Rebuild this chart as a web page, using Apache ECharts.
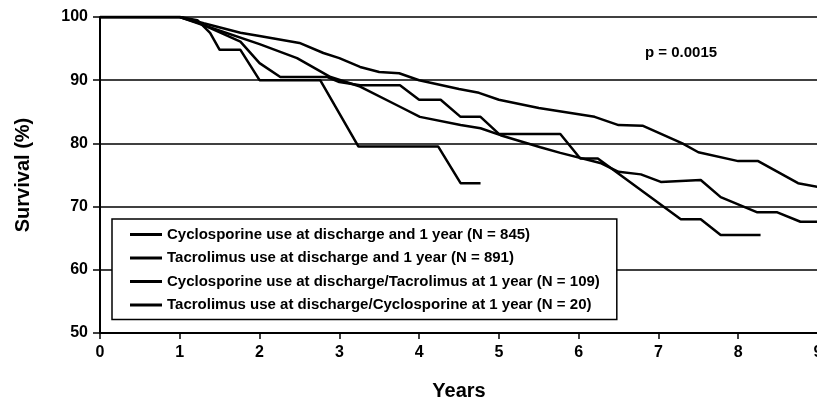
<!DOCTYPE html>
<html>
<head>
<meta charset="utf-8">
<script src="https://cdn.jsdelivr.net/npm/echarts@6/dist/echarts.min.js"></script>
<style>
  html, body { margin: 0; padding: 0; background: #fff; }
  #chart { width: 817px; height: 409px; }
</style>
</head>
<body>
<div id="chart"></div>
<script>
// legend labels
const seriesNames = [
  'Cyclosporine use at discharge and 1 year (N = 845)',
  'Tacrolimus use at discharge and 1 year (N = 891)',
  'Cyclosporine use at discharge/Tacrolimus at 1 year (N = 109)',
  'Tacrolimus use at discharge/Cyclosporine at 1 year (N = 20)'
]

// cyclosporine both
const cycX = [0, 1.0, 1.3, 2.0, 2.47, 2.89, 3.26, 3.76, 4.01, 4.52, 4.77, 5.02, 5.52, 5.77, 6.27, 6.5, 6.78, 7.03, 7.53, 7.78, 8.24, 8.49, 8.78, 9.0]
const cycY = [100, 100, 98.7, 95.7, 93.5, 90.5, 89, 85.8, 84.2, 82.9, 82.4, 81.3, 79.4, 78.5, 76.9, 75.5, 75.1, 73.9, 74.2, 71.5, 69.1, 69.1, 67.6, 67.6]

// tacrolimus both
const tacX = [0, 1.0, 1.3, 1.76, 2.0, 2.5, 2.8, 3.0, 3.26, 3.5, 3.75, 4.0, 4.5, 4.75, 5.0, 5.5, 6.2, 6.5, 6.8, 7.3, 7.5, 8.0, 8.25, 8.75, 9.0]
const tacY = [100, 100, 99, 97.5, 97, 95.9, 94.3, 93.5, 92.1, 91.3, 91.1, 90, 88.6, 88, 86.9, 85.6, 84.2, 82.9, 82.8, 80, 78.6, 77.2, 77.2, 73.7, 73.1]

// cyclosporine -> tacrolimus
const cycTacX = [0, 1.0, 1.25, 1.76, 2.0, 2.26, 2.85, 3.0, 3.26, 3.76, 4.0, 4.27, 4.52, 4.77, 5.0, 5.77, 6.02, 6.24, 7.28, 7.53, 7.78, 8.28]
const cycTacY = [100, 100, 99, 96.1, 92.7, 90.5, 90.5, 89.7, 89.2, 89.2, 86.9, 86.9, 84.2, 84.2, 81.5, 81.5, 77.6, 77.6, 68, 68, 65.5, 65.5]

// tacrolimus -> cyclosporine
const tacCycX = [0, 1.0, 1.22, 1.38, 1.5, 1.76, 2.0, 2.76, 3.24, 4.24, 4.52, 4.77]
const tacCycY = [100, 100, 99.5, 97.5, 94.8, 94.8, 90, 90, 79.5, 79.5, 73.7, 73.7]

const xTicks = [0, 1, 2, 3, 4, 5, 6, 7, 8, 9]
const yTicks = [50, 60, 70, 80, 90, 100]

const pair = (xs, ys) => xs.map((x, i) => [x, ys[i]])

const chart = echarts.init(document.getElementById('chart'))

const lineSeries = (name, xs, ys) => ({
  name: name,
  type: 'line',
  data: pair(xs, ys),
  symbol: 'none',
  lineStyle: { color: '#000', width: 2.5 },
  itemStyle: { color: '#000' },
  z: 3
})

chart.setOption({
  backgroundColor: '#fff',
  animation: false,
  textStyle: { fontFamily: 'Liberation Sans, Arial, sans-serif' },
  grid: { left: 100, top: 17, width: 718, height: 316, outerBoundsMode: 'none', containLabel: false },
  legend: {
    orient: 'vertical',
    left: 112,
    top: 219,
    padding: [8, 17, 7, 18],
    itemGap: 8.5,
    icon: 'rect',
    itemWidth: 32,
    itemHeight: 3,
    backgroundColor: '#fff',
    borderColor: '#000',
    borderWidth: 1.5,
    textStyle: { color: '#000', fontSize: 15, fontWeight: 'bold' },
    data: seriesNames
  },
  xAxis: {
    type: 'value',
    min: xTicks[0],
    max: xTicks[xTicks.length - 1],
    interval: 1,
    name: 'Years',
    nameLocation: 'middle',
    nameGap: 48,
    nameTextStyle: { color: '#000', fontSize: 20, fontWeight: 'bold' },
    axisLine: { lineStyle: { color: '#000', width: 2 } },
    axisTick: { inside: false, length: 6, lineStyle: { color: '#000', width: 1.5 } },
    axisLabel: { color: '#000', fontSize: 16, fontWeight: 'bold', margin: 12, showMaxLabel: true },
    splitLine: { show: false }
  },
  yAxis: {
    type: 'value',
    min: yTicks[0],
    max: yTicks[yTicks.length - 1],
    interval: 10,
    name: 'Survival (%)',
    nameLocation: 'middle',
    nameGap: 67,
    nameTextStyle: { color: '#000', fontSize: 20, fontWeight: 'bold' },
    axisLine: { show: true, lineStyle: { color: '#000', width: 2 } },
    axisTick: { show: true, inside: false, length: 7, lineStyle: { color: '#000', width: 1.5 } },
    axisLabel: { color: '#000', fontSize: 16, fontWeight: 'bold', margin: 12 },
    splitLine: { show: true, lineStyle: { color: '#000', width: 1.5 } }
  },
  graphic: [
    {
      type: 'text',
      left: 645,
      top: 45,
      style: { text: 'p = 0.0015', fill: '#000', font: 'bold 15px Liberation Sans, Arial, sans-serif' }
    }
  ],
  series: [
    lineSeries(seriesNames[0], cycX, cycY),
    lineSeries(seriesNames[1], tacX, tacY),
    lineSeries(seriesNames[2], cycTacX, cycTacY),
    lineSeries(seriesNames[3], tacCycX, tacCycY)
  ]
})
</script>
</body>
</html>
